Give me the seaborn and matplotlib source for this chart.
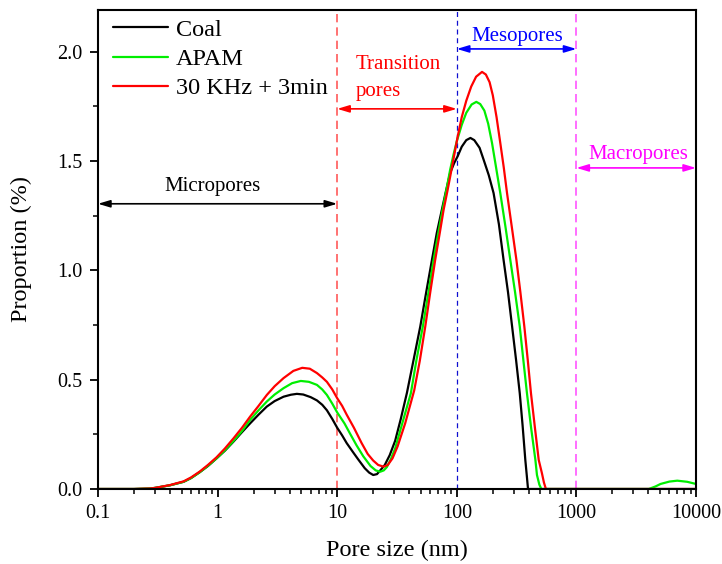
import numpy as np
import pandas as pd
import matplotlib
matplotlib.use("Agg")
import matplotlib.pyplot as plt
import seaborn as sns
from matplotlib.ticker import (LogLocator, MultipleLocator, FixedLocator,
                               FixedFormatter, NullFormatter, FormatStrFormatter)

# Pore size distribution (pore size in nm, proportion in %)
coal_x = [0.1, 0.2, 0.27, 0.3, 0.4, 0.52, 0.6, 0.71, 0.83, 0.98, 1.15, 1.36, 1.6, 1.87,
          2.2, 2.58, 3.0, 3.56, 4.1, 4.6, 5.2, 6.0, 6.77, 7.5, 8.2, 9.1,
          10, 11, 12, 13.5, 15, 17, 18.5, 20, 21.5, 22.5, 25, 27.5, 30.5, 34, 38.3, 43.5,
          49.5, 55.5, 62, 68, 75, 81, 88, 95, 101.6, 110, 120, 130, 140, 155, 167.5, 185,
          203, 225, 246, 268, 290, 313, 336, 355, 374, 385, 394, 10000]
coal_y = [0, 0, 0.002, 0.005, 0.017, 0.033, 0.05, 0.077, 0.105, 0.14, 0.175, 0.217, 0.26, 0.30,
          0.34, 0.377, 0.402, 0.422, 0.431, 0.435, 0.432, 0.42, 0.405, 0.385, 0.36, 0.32,
          0.28, 0.245, 0.21, 0.17, 0.135, 0.095, 0.075, 0.064, 0.068, 0.08, 0.11, 0.155, 0.22, 0.32, 0.44, 0.59,
          0.743, 0.9, 1.048, 1.17, 1.277, 1.36, 1.445, 1.49, 1.521, 1.565, 1.595, 1.605, 1.595, 1.56, 1.506, 1.435,
          1.353, 1.21, 1.048, 0.9, 0.743, 0.59, 0.438, 0.29, 0.133, 0.06, 0, 0]

apam_x = [0.1, 0.2, 0.27, 0.3, 0.4, 0.52, 0.6, 0.71, 0.83, 0.98, 1.15, 1.36, 1.6, 1.87,
          2.2, 2.58, 3.0, 3.56, 4.2, 4.96, 5.8, 6.77, 7.5, 8.2, 9.1,
          10, 11.5, 12.9, 14.5, 16.5, 19, 21, 22.9, 24.5, 26, 28, 30.5, 35, 41.3, 46,
          52, 58, 64, 70, 76, 82, 88, 94, 100, 110, 120, 133, 145.6, 157, 170, 183,
          197, 213, 231, 255, 280, 307, 336, 360, 386, 418, 454, 468, 490, 509,
          4030, 4600, 5050, 6000, 6970, 8430, 10000]
apam_y = [0, 0, 0.002, 0.005, 0.017, 0.033, 0.05, 0.077, 0.106, 0.14, 0.177, 0.22, 0.265, 0.316,
          0.36, 0.40, 0.432, 0.461, 0.484, 0.494, 0.49, 0.476, 0.455, 0.43, 0.39,
          0.35, 0.30, 0.25, 0.20, 0.15, 0.105, 0.085, 0.079, 0.085, 0.10, 0.135, 0.185, 0.30, 0.438, 0.59,
          0.743, 0.9, 1.048, 1.17, 1.277, 1.37, 1.46, 1.53, 1.59, 1.665, 1.72, 1.758, 1.77, 1.76, 1.73, 1.67,
          1.582, 1.47, 1.353, 1.2, 1.048, 0.9, 0.743, 0.59, 0.438, 0.28, 0.133, 0.064, 0.02, 0,
          0, 0.012, 0.023, 0.034, 0.038, 0.033, 0.023]

us_x = [0.1, 0.2, 0.27, 0.3, 0.4, 0.52, 0.6, 0.71, 0.83, 0.98, 1.15, 1.36, 1.6, 1.87,
        2.2, 2.58, 3.0, 3.56, 4.3, 5.1, 5.9, 6.77, 7.5, 8.2, 9.1,
        10, 11, 12, 13.8, 16, 18, 20, 22, 24.4, 26.5, 29, 32, 37, 44, 49,
        54.5, 60, 66, 72, 77.6, 84, 91, 101.6, 110, 120, 132, 145, 162.5, 175, 188,
        200, 215, 231, 247, 263, 288, 315, 340, 367, 392, 417, 450, 484, 515, 535, 556, 10000]
us_y = [0, 0, 0.002, 0.005, 0.018, 0.035, 0.053, 0.08, 0.11, 0.145, 0.185, 0.232, 0.28, 0.331,
        0.38, 0.43, 0.47, 0.507, 0.54, 0.554, 0.55, 0.53, 0.51, 0.49, 0.455,
        0.415, 0.38, 0.34, 0.28, 0.21, 0.16, 0.13, 0.11, 0.102, 0.11, 0.14, 0.195, 0.3, 0.45, 0.585,
        0.743, 0.9, 1.048, 1.17, 1.277, 1.37, 1.47, 1.61, 1.70, 1.775, 1.84, 1.885, 1.907, 1.895, 1.86,
        1.80, 1.70, 1.582, 1.47, 1.353, 1.2, 1.048, 0.9, 0.743, 0.59, 0.438, 0.28, 0.133, 0.072, 0.03, 0, 0]

series_names = ["Coal", "APAM", "30 KHz + 3min"]
series_colors = ["#000000", "#00EE00", "#FF0000"]

x_ticks = [0.1, 1, 10, 100, 1000, 10000]
x_tick_labels = ["0.1", "1", "10", "100", "1000", "10000"]
y_ticks = [0.0, 0.5, 1.0, 1.5, 2.0]

# Pore classes: (label, lower bound, upper bound, colour)
class_names = ["Micropores", "Transition\npores", "Mesopores", "Macropores"]
class_bounds = [(0.1, 10), (10, 100), (100, 1000), (1000, 10000)]
class_colors = ["#000000", "#FF0000", "#0000FF", "#FF00FF"]

frames = []
for name, xs, ys in zip(series_names, [coal_x, apam_x, us_x], [coal_y, apam_y, us_y]):
    frames.append(pd.DataFrame({"size": xs, "prop": ys, "sample": name}))
df = pd.concat(frames, ignore_index=True)

sns.set_theme(style="ticks")
plt.rcParams["font.family"] = ["Liberation Serif", "DejaVu Serif"]
plt.rcParams.update({"text.color": "black", "axes.labelcolor": "black",
                     "xtick.color": "black", "ytick.color": "black",
                     "axes.edgecolor": "black"})

fig = plt.figure(figsize=(7.22, 5.64), dpi=100)
ax = fig.add_axes([98 / 722, 1 - 489 / 564, (696 - 98) / 722, (489 - 10) / 564])

for name, color in zip(series_names, series_colors):
    sub = df[df["sample"] == name]
    sns.lineplot(data=sub, x="size", y="prop", ax=ax, color=color, lw=1.6,
                 label=name, sort=False, estimator=None)

ax.set_xscale("log")
ax.set_xlim(0.1, 10000)
ax.set_ylim(0, 2.19)

# Boundary lines between pore classes
ax.axvline(10, color="#FF5A5A", ls=(0, (5, 3)), lw=1.2, zorder=1)
ax.axvline(100, color="#1010D0", ls=(0, (4, 3)), lw=0.9, zorder=1)
ax.axvline(1000, color="#FF55FF", ls=(0, (5, 3)), lw=1.2, zorder=1)

# Class range arrows and labels
arrow_y = [1.304, 1.738, 2.012, 1.468]
label_pos = [(0.9, 1.382, "center"), (14.2, 1.88, "left"), (318, 2.07, "center"), (3280, 1.529, "center")]
for (lo, hi), name, color, ay, (lx, ly, ha) in zip(class_bounds, class_names, class_colors, arrow_y, label_pos):
    ax.annotate("", xy=(lo, ay), xytext=(hi, ay),
                arrowprops=dict(arrowstyle="<|-|>,head_length=0.6,head_width=0.18",
                                color=color, lw=1.2, shrinkA=0, shrinkB=0))
    ax.text(lx, ly, name, color=color, fontsize=15, ha=ha, va="center", linespacing=1.6)

ax.xaxis.set_major_locator(FixedLocator(x_ticks))
ax.xaxis.set_major_formatter(FixedFormatter(x_tick_labels))
ax.xaxis.set_minor_locator(LogLocator(base=10, subs=np.arange(2, 10), numticks=20))
ax.xaxis.set_minor_formatter(NullFormatter())
ax.yaxis.set_major_locator(FixedLocator(y_ticks))
ax.yaxis.set_major_formatter(FormatStrFormatter("%.1f"))
ax.yaxis.set_minor_locator(MultipleLocator(0.25))

ax.tick_params(which="major", direction="out", length=6, width=1.3, labelsize=14.5, pad=5,
               top=False, right=False)
ax.tick_params(which="minor", direction="out", length=3.5, width=1.1, top=False, right=False)
for s in ax.spines.values():
    s.set_linewidth(1.5)
    s.set_visible(True)

ax.set_xlabel("Pore size (nm)", fontsize=17.5, labelpad=12)
ax.set_ylabel("Proportion (%)", fontsize=17.5, labelpad=18)

ax.legend(loc="upper left", bbox_to_anchor=(0.0, 1.012), frameon=False, fontsize=17.5,
          handlelength=2.3, handletextpad=0.3, labelspacing=0.3, borderaxespad=0.2)

fig.savefig("out.png", dpi=100)
